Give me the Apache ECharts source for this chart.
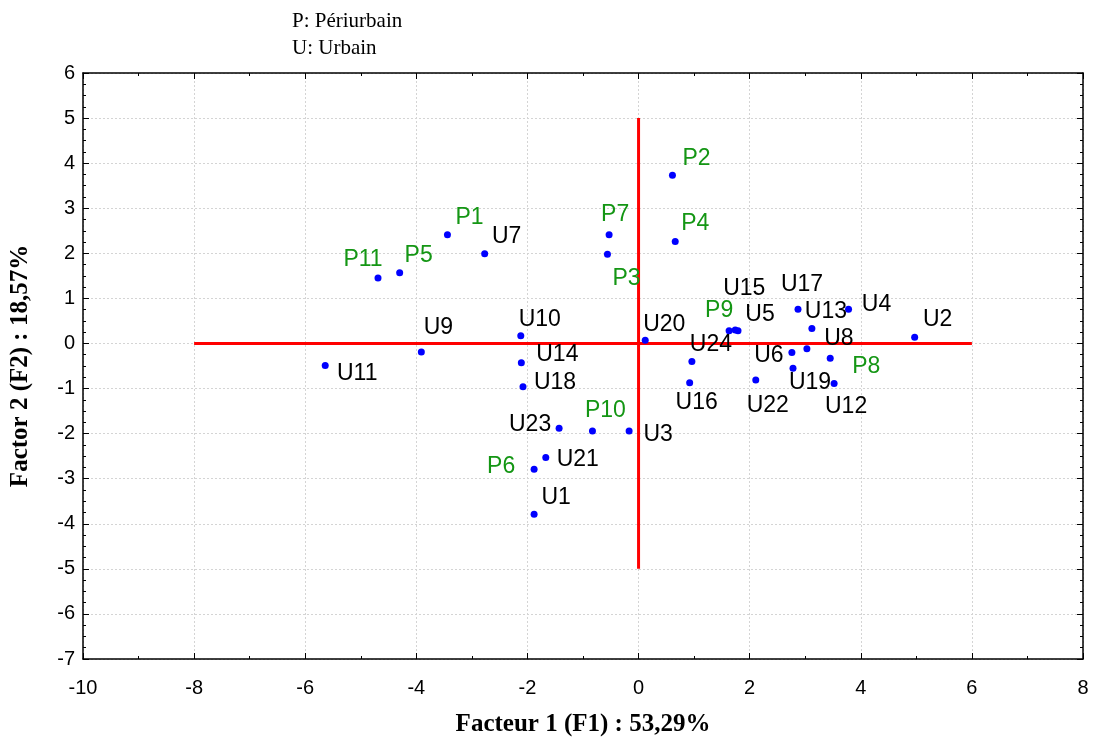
<!DOCTYPE html>
<html>
<head>
<meta charset="utf-8">
<script src="https://cdn.jsdelivr.net/npm/echarts@6/dist/echarts.min.js"></script>
<style>html,body{margin:0;padding:0;background:#fff;}#c{width:1097px;height:744px;}</style>
</head>
<body>
<div id="c"></div>
<script>
// Data
const pNames = ['P1','P2','P3','P4','P5','P6','P7','P8','P9','P10','P11'];
const pF1 = [-3.44, 0.61, -0.56, 0.66, -4.30, -1.88, -0.53, 3.45, 1.63, -0.83, -4.69];
const pF2 = [2.41, 3.73, 1.98, 2.26, 1.57, -2.79, 2.41, -0.33, 0.28, -1.94, 1.45];

const uNames = ['U1','U2','U3','U4','U5','U6','U7','U8','U9','U10','U11','U12','U13','U14','U15','U16','U17','U18','U19','U20','U21','U22','U23','U24'];
const uF1 = [-1.88, 4.97, -0.17, 3.78, 1.79, 2.76, -2.77, 3.03, -3.91, -2.12, -5.64, 3.52, 3.12, -2.11, 1.74, 0.92, 2.87, -2.08, 2.78, 0.12, -1.67, 2.11, -1.43, 0.96];
const uF2 = [-3.79, 0.14, -1.94, 0.76, 0.28, -0.20, 1.99, -0.12, -0.19, 0.17, -0.49, -0.89, 0.33, -0.43, 0.30, -0.87, 0.76, -0.96, -0.55, 0.07, -2.53, -0.81, -1.88, -0.40];

const hLine = [[-8, 0], [6, 0]];
const vLine = [[0, -5], [0, 5]];

const xTicks = {min: -10, max: 8, interval: 2};
const yTicks = {min: -7, max: 6, interval: 1};

const xTitle = 'Facteur 1 (F1) : 53,29%';
const yTitle = 'Factor 2 (F2) : 18,57%';
const legendLines = ['P: Périurbain', 'U: Urbain'];

// Label placement (offset of label centre from point, px)
const labelOffsets = {
  P1:[22,-17], P2:[24,-17], P3:[19,24], P4:[20,-18], P5:[19,-17], P6:[-33,-3], P7:[6,-20], P8:[36,8], P9:[-10,-20], P10:[13,-20], P11:[-15,-18],
  U1:[22,-17], U2:[23,-17], U3:[29,4], U4:[28,-5], U5:[22,-16], U6:[-23,3], U7:[22,-17], U8:[32,-10], U9:[17,-24], U10:[19,-16], U11:[32,8], U12:[12,23], U13:[14,-17], U14:[36,-8], U15:[9,-41], U16:[7,20], U17:[4,-25], U18:[32,-4], U19:[17,14], U20:[19,-16], U21:[32,2], U22:[12,26], U23:[-29,-4], U24:[19,-17]
};

function build(names, xs, ys) {
  return names.map((n, i) => ({
    name: n,
    value: [xs[i], ys[i]],
    label: {offset: labelOffsets[n] || [15, -15]}
  }));
}

const labelFont = '"Liberation Sans", Arial, sans-serif';
const serif = '"Liberation Serif", "Times New Roman", serif';

const chart = echarts.init(document.getElementById('c'), null, {renderer: 'canvas'});

function axisBase(split) {
  return {
    axisLine: {show: true, onZero: false, lineStyle: {color: '#000', width: 1.5}},
    axisTick: {show: true, inside: true, length: 6, lineStyle: {color: '#000', width: 1}},
    minorTick: {show: true, splitNumber: split, length: 3, lineStyle: {color: '#000', width: 1}}
  };
}

const labelStyle = {show: true, position: 'inside', formatter: '{b}', fontFamily: labelFont, fontSize: 23, align: 'center', verticalAlign: 'middle', opacity: 1};

chart.setOption({
  animation: false,
  backgroundColor: '#fff',
  title: {
    text: legendLines.join('\n'),
    left: 287, top: 3,
    textStyle: {fontFamily: serif, fontSize: 21, fontWeight: 'normal', color: '#000', lineHeight: 27}
  },
  grid: {left: 83, right: 14, top: 73, bottom: 85, containLabel: false},
  xAxis: [
    Object.assign({}, axisBase(2), {
      type: 'value', position: 'bottom', min: xTicks.min, max: xTicks.max, interval: xTicks.interval,
      name: xTitle, nameLocation: 'middle', nameGap: 66,
      nameTextStyle: {fontFamily: serif, fontWeight: 'bold', fontSize: 25, color: '#000', verticalAlign: 'middle'},
      axisLabel: {margin: 19, fontFamily: labelFont, fontSize: 20, color: '#000'},
      splitLine: {show: true, lineStyle: {color: '#d4d4d4', type: [2, 2], width: 1}}
    }),
    Object.assign({}, axisBase(2), {
      type: 'value', position: 'top', min: xTicks.min, max: xTicks.max, interval: xTicks.interval,
      axisLabel: {show: false}, splitLine: {show: false}
    })
  ],
  yAxis: [
    Object.assign({}, axisBase(4), {
      type: 'value', position: 'left', min: yTicks.min, max: yTicks.max, interval: yTicks.interval,
      name: yTitle, nameLocation: 'middle', nameGap: 62, nameRotate: 90,
      nameTextStyle: {fontFamily: serif, fontWeight: 'bold', fontSize: 25, color: '#000', verticalAlign: 'middle'},
      axisLabel: {margin: 8, fontFamily: labelFont, fontSize: 20, color: '#000'},
      splitLine: {show: true, lineStyle: {color: '#d4d4d4', type: [2, 2], width: 1}}
    }),
    Object.assign({}, axisBase(4), {
      type: 'value', position: 'right', min: yTicks.min, max: yTicks.max, interval: yTicks.interval,
      axisLabel: {show: false}, splitLine: {show: false}
    })
  ],
  series: [
    {type: 'line', data: hLine, symbol: 'none', lineStyle: {color: '#ff0000', width: 3}, z: 1, silent: true},
    {type: 'line', data: vLine, symbol: 'none', lineStyle: {color: '#ff0000', width: 3}, z: 1, silent: true},
    {
      type: 'scatter', name: 'P', data: build(pNames, pF1, pF2), symbolSize: 7, z: 3,
      itemStyle: {color: '#0000ff', opacity: 1},
      label: Object.assign({}, labelStyle, {color: '#149614'})
    },
    {
      type: 'scatter', name: 'U', data: build(uNames, uF1, uF2), symbolSize: 7, z: 3,
      itemStyle: {color: '#0000ff', opacity: 1},
      label: Object.assign({}, labelStyle, {color: '#000000'})
    }
  ]
});
</script>
</body>
</html>
